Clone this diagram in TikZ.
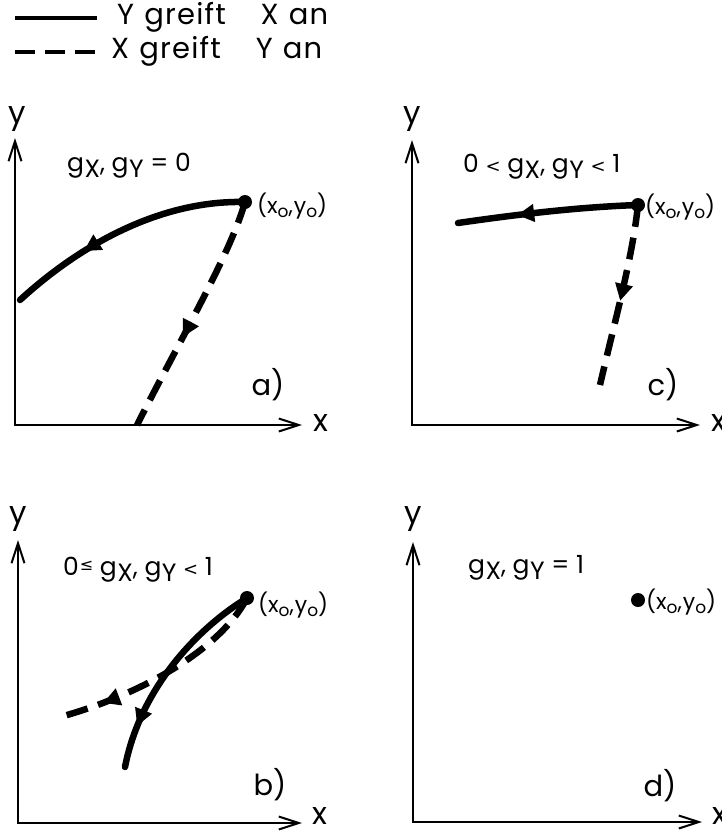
\documentclass[tikz,border=0pt]{standalone}
\usepackage{fontspec}
\setmainfont{Poppins}
\newfontfamily\symf{DejaVu Sans}
\usetikzlibrary{arrows.meta,decorations.markings}
\newcommand{\gsb}[1]{g\kern0.5pt\raisebox{-0.5ex}{#1}}
\newcommand{\mylt}{{\symf\fontsize{18}{18}\selectfont <}}
\newcommand{\myle}{{\symf\fontsize{16}{16}\selectfont\raisebox{0.5ex}{≤}}}
\newcommand{\xoyo}{(x\raisebox{-0.35ex}{\fontsize{17}{17}\selectfont o},\kern1pt y\raisebox{-0.35ex}{\fontsize{17}{17}\selectfont o})}
\newcommand{\ls}{\kern1.2pt}
\begin{document}
\begin{tikzpicture}[x=1pt,y=-1pt,
  axis/.style={line width=2pt,{Straight Barb[length=20pt,width=13pt]}-{Straight Barb[length=20pt,width=13pt]}},
  curve/.style={line width=6.5pt,line cap=round},
  dcurve/.style={line width=6.5pt,line cap=butt,dash pattern=on 22pt off 11pt},
  legsolid/.style={line width=3.2pt},
  legdash/.style={line width=3.2pt,dash pattern=on 20pt off 10pt},
  midarrow/.style={postaction={decorate,decoration={markings,mark=at position #1 with {\arrow{Triangle[length=17pt,width=17pt]}}}}},
  dot/.style={circle,fill=black,inner sep=0pt,minimum size=14pt},
  big/.style={font=\fontsize{29}{34}\selectfont,inner sep=0pt},
  axl/.style={font=\fontsize{31}{36}\selectfont,inner sep=0pt},
  mid/.style={font=\fontsize{25}{30}\selectfont,inner sep=0pt},
  pt/.style={font=\fontsize{22}{26}\selectfont,inner sep=0pt,anchor=west},
]
\useasboundingbox (0,0) rectangle (722,831);
% legend
\coordinate (l1a) at (15,18); \coordinate (l1b) at (97,18);
\draw[legsolid] (l1a) -- (l1b);
\node[big,anchor=base west] (t1) at (117,24) {Y\hspace{0.35em}g\ls r\ls e\ls i\ls f\ls t\hspace{1.2em}X\hspace{0.35em}a\ls n};
\coordinate (l2a) at (15,52); \coordinate (l2b) at (98,52);
\draw[legdash] (l2a) -- (l2b);
\node[big,anchor=base west] (t2) at (111,58) {X\hspace{0.35em}g\ls r\ls e\ls i\ls f\ls t\hspace{1.2em}Y\hspace{0.35em}a\ls n};

% panel a
\coordinate (ya) at (15,138); \coordinate (oa) at (15,425); \coordinate (xa) at (302,425);
\draw[axis] (ya) -- (oa) -- (xa);
\node[axl] (lya) at (17,119) {y};
\node[axl] (lxa) at (321,423) {x};
\node[mid,anchor=base west] (ga) at (67,171) {\gsb{X}, \gsb{Y} = 0};
\node[dot] (pa) at (245,202) {};
\node[pt] (xa0) at (257,206) {\xoyo};
\coordinate (ea) at (20,300);
\coordinate (fa) at (137,425);
\draw[curve,midarrow=0.68] (pa.center) .. controls (160,200) and (80,245) .. (ea);
\draw[dcurve,midarrow=0.6] (pa.center) .. controls (230,255) and (180,340) .. (fa);
\node[big] (sa) at (268,385) {a)};

% panel c
\coordinate (yc) at (412,140); \coordinate (oc) at (412,425); \coordinate (xc) at (700,425);
\draw[axis] (yc) -- (oc) -- (xc);
\node[axl] (lyc) at (412,119) {y};
\node[axl] (lxc) at (719,423) {x};
\node[mid,anchor=base west] (gc) at (463,172) {0 \mylt\ \gsb{X}, \gsb{Y} \mylt\ 1};
\node[dot] (pc) at (638,205) {};
\node[pt] (xc0) at (645,207) {\xoyo};
\coordinate (ec) at (458,223);
\coordinate (fc) at (600,385);
\draw[curve,midarrow=0.67] (pc.center) .. controls (580,207) and (520,214) .. (ec);
\draw[dcurve,midarrow=0.53] (pc.center) .. controls (632,260) and (615,320) .. (fc);
\node[big] (sc) at (663,385) {c)};

% panel b
\coordinate (yb) at (18,540); \coordinate (ob) at (18,823); \coordinate (xb) at (302,823);
\draw[axis] (yb) -- (ob) -- (xb);
\node[axl] (lyb) at (18,519) {y};
\node[axl] (lxb) at (320,816) {x};
\node[mid,anchor=base west] (gb) at (63,575) {0\kern1pt\myle\ \gsb{X}, \gsb{Y} \mylt\ 1};
\node[dot] (pb) at (247,598) {};
\node[pt] (xb0) at (258,605) {\xoyo};
\coordinate (eb) at (125,767);
\coordinate (fb) at (60,717);
\draw[curve,midarrow=0.8] (pb.center) .. controls (195,630) and (140,690) .. (eb);
\draw[dcurve,midarrow=0.8] (pb.center) .. controls (220,650) and (140,695) .. (fb);
\node[big] (sb) at (270,785) {b)};

% panel d
\coordinate (yd) at (413,542); \coordinate (od) at (413,822); \coordinate (xd) at (702,822);
\draw[axis] (yd) -- (od) -- (xd);
\node[axl] (lyd) at (413,519) {y};
\node[axl] (lxd) at (720,816) {x};
\node[mid,anchor=base west] (gd) at (468,573) {\gsb{X}, \gsb{Y} = 1};
\node[dot] (pd) at (638,600) {};
\node[pt] (xd0) at (646,602) {\xoyo};
\node[big] (sd) at (660,786) {d)};
\end{tikzpicture}
\end{document}
